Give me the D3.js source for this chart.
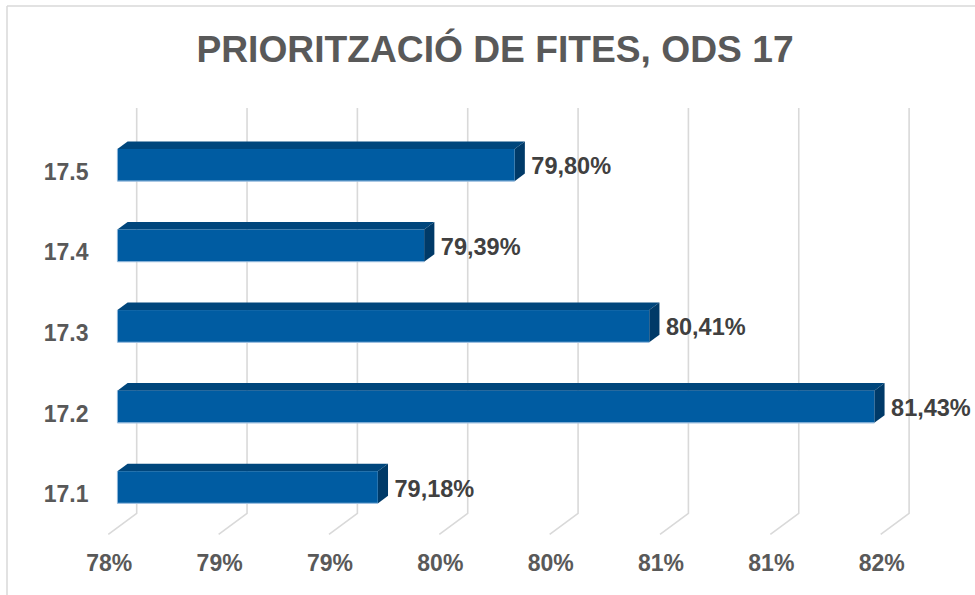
<!DOCTYPE html>
<html>
<head>
<meta charset="utf-8">
<script src="https://cdn.jsdelivr.net/npm/d3@7"></script>
<style>
  html, body { margin: 0; padding: 0; background: #ffffff; }
  svg { display: block; }
</style>
</head>
<body>
<svg id="chart" width="975" height="595"></svg>
<script>
// ---- data ----
const title = "PRIORITZACIÓ DE FITES, ODS 17";
const categories = ["17.5", "17.4", "17.3", "17.2", "17.1"];
const values = [79.80, 79.39, 80.41, 81.43, 79.18];
const valueLabels = ["79,80%", "79,39%", "80,41%", "81,43%", "79,18%"];
const tickValues = [78, 78.5, 79, 79.5, 80, 80.5, 81, 81.5];
const tickLabels = ["78%", "79%", "79%", "80%", "80%", "81%", "81%", "82%"];

// ---- layout ----
const svg = d3.select("#chart");
const W = 975, H = 595;
const depthDX = 28.4, depthDY = -21;      // offset of back wall vs front edge
const zFront = 0.32, zBack = 0.68;         // bar depth within the floor
const fontFam = "Liberation Sans, Arial, sans-serif";

const x = d3.scaleLinear().domain([78, 81.5]).range([108.3, 880.7]);
const y = d3.scaleBand().domain(categories).range([131.5, 534.3])
  .paddingInner(0.6).paddingOuter(0.3);
const floorY = 534.3;
const wallTopY = 108;

const proj = (xv, yv, z) => [x(xv) + z * depthDX, yv + z * depthDY];

// chart border (outer frame)
svg.append("line").attr("x1", 7).attr("x2", 7).attr("y1", 6).attr("y2", H)
  .attr("stroke", "#d9d9d9").attr("stroke-width", 1.5);
svg.append("line").attr("x1", 7).attr("x2", W).attr("y1", 6).attr("y2", 6)
  .attr("stroke", "#d9d9d9").attr("stroke-width", 1.5);

// title
svg.append("text")
  .attr("x", 495).attr("y", 61.5)
  .attr("text-anchor", "middle")
  .attr("font-family", fontFam).attr("font-weight", "bold")
  .attr("font-size", 37.2).attr("fill", "#595959")
  .text(title);

// gridlines: vertical on back wall + diagonal on floor
const grid = svg.append("g").attr("stroke", "#d9d9d9").attr("stroke-width", 1.6).attr("fill", "none");
tickValues.forEach(t => {
  const back = proj(t, floorY, 1);
  const front = proj(t, floorY, 0);
  grid.append("path")
    .attr("d", `M${back[0]},${wallTopY}L${back[0]},${back[1]}L${front[0]},${front[1]}`);
});

// x tick labels
svg.append("g").selectAll("text").data(tickValues).join("text")
  .attr("x", (d) => x(d) + 1)
  .attr("y", 571)
  .attr("text-anchor", "middle")
  .attr("font-family", fontFam).attr("font-weight", "bold")
  .attr("font-size", 23).attr("fill", "#595959")
  .text((d, i) => tickLabels[i]);

// category labels
svg.append("g").selectAll("text").data(categories).join("text")
  .attr("x", 88.5)
  .attr("y", d => y(d) + y.bandwidth() / 2)
  .attr("dy", "0.35em")
  .attr("text-anchor", "end")
  .attr("font-family", fontFam).attr("font-weight", "bold")
  .attr("font-size", 23).attr("fill", "#595959")
  .text(d => d);

// 3D bars
const bars = svg.append("g");
const data = categories.map((c, i) => ({ c, v: values[i], label: valueLabels[i] }));
const pts = arr => arr.map(p => p.join(",")).join(" ");

data.forEach(d => {
  const y0 = y(d.c), y1 = y(d.c) + y.bandwidth();
  const g = bars.append("g");
  // top face
  g.append("polygon").attr("points", pts([
    proj(78, y0, zFront), proj(d.v, y0, zFront), proj(d.v, y0, zBack), proj(78, y0, zBack)
  ])).attr("fill", "#00467c");
  // right end face
  g.append("polygon").attr("points", pts([
    proj(d.v, y0, zFront), proj(d.v, y0, zBack), proj(d.v, y1, zBack), proj(d.v, y1, zFront)
  ])).attr("fill", "#003a68");
  // front face
  const f0 = proj(78, y0, zFront), f1 = proj(d.v, y1, zFront);
  g.append("rect")
    .attr("x", f0[0]).attr("y", f0[1])
    .attr("width", f1[0] - f0[0]).attr("height", f1[1] - f0[1])
    .attr("fill", "#005ca2");
  // light bottom edge
  g.append("line")
    .attr("x1", f0[0]).attr("x2", f1[0]).attr("y1", f1[1]).attr("y2", f1[1])
    .attr("stroke", "#9dbfe0").attr("stroke-width", 1.2);
  g.append("line")
    .attr("x1", f0[0]).attr("x2", f0[0]).attr("y1", f0[1]).attr("y2", f1[1])
    .attr("stroke", "#9dbfe0").attr("stroke-width", 0.8);

  // value label
  const endBack = proj(d.v, (y0 + y1) / 2, zBack);
  const endFront = proj(d.v, (y0 + y1) / 2, zFront);
  g.append("text")
    .attr("x", endBack[0] + 6.5)
    .attr("y", endFront[1] + 1)
    .attr("dy", "0.35em")
    .attr("font-family", fontFam).attr("font-weight", "bold")
    .attr("font-size", 23.5).attr("fill", "#404040")
    .text(d.label);
});
</script>
</body>
</html>
